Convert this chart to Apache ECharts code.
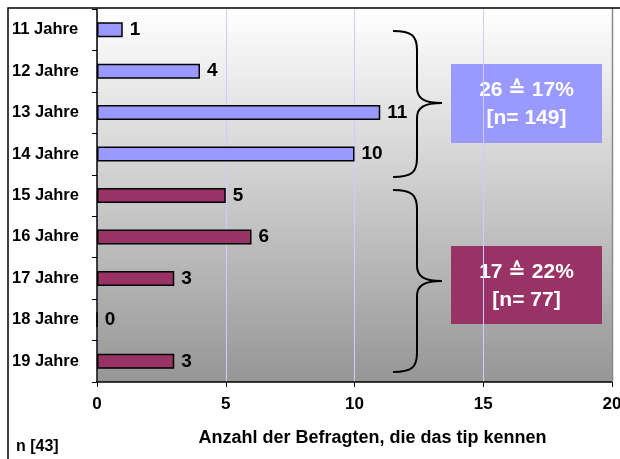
<!DOCTYPE html>
<html>
<head>
<meta charset="utf-8">
<script src="https://cdn.jsdelivr.net/npm/echarts@6/dist/echarts.min.js"></script>
<style>
  html, body { margin: 0; padding: 0; background: #fff; }
  #chart { width: 620px; height: 459px; }
</style>
</head>
<body>
<div id="chart"></div>
<script>
// Altersgruppen und Anzahl der Befragten, die das tip kennen
const ages = ['11 Jahre', '12 Jahre', '13 Jahre', '14 Jahre', '15 Jahre', '16 Jahre', '17 Jahre', '18 Jahre', '19 Jahre'];
const counts = [1, 4, 11, 10, 5, 6, 3, 0, 3];
const groupOf = [0, 0, 0, 0, 1, 1, 1, 1, 1]; // 0 = 11–14, 1 = 15–19
const groupColors = ['#9999FF', '#993366'];
const xTicks = [0, 5, 10, 15, 20];
const boxLines = [['26 ≙ 17%', '[n= 149]'], ['17 ≙ 22%', '[n= 77]']];

const FONT = '"Liberation Sans", "DejaVu Sans", Arial, sans-serif';
const G = { left: 97, top: 9, right: 8, bottom: 77 };

const chart = echarts.init(document.getElementById('chart'), null, { renderer: 'canvas' });

// curly brace opening to the right: top y0, bottom y1, tip at ym
function brace(x0, y0, y1, ym) {
  const xs = x0 + 24, xt = x0 + 49;
  const st = { fill: null, stroke: '#000', lineWidth: 2 };
  const bz = (x1, y1, c1x, c1y, c2x, c2y, x2, y2) => ({
    type: 'bezierCurve', style: st,
    shape: { x1, y1, cpx1: c1x, cpy1: c1y, cpx2: c2x, cpy2: c2y, x2, y2 }
  });
  const ln = (x1, y1, x2, y2) => ({ type: 'line', style: st, shape: { x1, y1, x2, y2 } });
  return {
    type: 'group', z: 10, children: [
      bz(x0, y0, x0 + 19, y0, xs, y0 + 5, xs, y0 + 19),
      ln(xs, y0 + 19, xs, ym - 15),
      bz(xs, ym - 15, xs, ym - 4, xs + 8, ym, xt, ym),
      bz(xt, ym, xs + 8, ym, xs, ym + 4, xs, ym + 15),
      ln(xs, ym + 15, xs, y1 - 19),
      bz(xs, y1 - 19, xs, y1 - 5, x0 + 19, y1, x0, y1)
    ]
  };
}

function box(x, y, w, h, color, lines) {
  const t = (s, dy) => ({
    type: 'text', x: x + w / 2, y: y + h / 2 + dy,
    style: { text: s, fill: '#fff', font: 'bold 21px ' + FONT, align: 'center', verticalAlign: 'middle' }
  });
  return {
    type: 'group', z: 10, children: [
      { type: 'rect', shape: { x, y, width: w, height: h }, style: { fill: color } },
      t(lines[0], -13), t(lines[1], 15)
    ]
  };
}

const plotW = 620 - G.left - G.right, plotH = 459 - G.top - G.bottom;

chart.setOption({
  animation: false,
  backgroundColor: '#fff',
  title: {
    text: 'n [43]', left: 11, top: 434,
    textStyle: { fontFamily: FONT, fontSize: 16, fontWeight: 'bold', color: '#000' }
  },
  grid: { ...G, containLabel: false, outerBoundsMode: 'none' },
  xAxis: {
    type: 'value', min: xTicks[0], max: xTicks[xTicks.length - 1], interval: 5,
    axisLine: { show: true, lineStyle: { color: '#000', width: 1.5 } },
    axisTick: { show: true, length: 5, lineStyle: { color: '#000' } },
    axisLabel: { margin: 14, fontFamily: FONT, fontSize: 17, fontWeight: 'bold', color: '#000' },
    splitLine: { show: true, lineStyle: { color: '#ccccff', width: 1 } },
    name: 'Anzahl der Befragten, die das tip kennen',
    nameLocation: 'middle', nameGap: 47,
    nameTextStyle: { fontFamily: FONT, fontSize: 18, fontWeight: 'bold', color: '#000', padding: [0, 0, 0, 36] }
  },
  yAxis: {
    type: 'category', data: ages, inverse: true,
    axisLine: { show: true, lineStyle: { color: '#000', width: 1.5 } },
    axisTick: { show: true, length: 5, lineStyle: { color: '#000' } },
    axisLabel: { align: 'left', margin: 85, fontFamily: FONT, fontSize: 16.5, fontWeight: 'bold', color: '#000' }
  },
  series: [{
    type: 'bar',
    barWidth: 15,
    data: counts.map((v, i) => ({ value: v, itemStyle: { color: groupColors[groupOf[i]] } })),
    itemStyle: { borderColor: '#000', borderWidth: 1.5 },
    label: {
      show: true, position: 'right', distance: 7,
      fontFamily: FONT, fontSize: 19, fontWeight: 'bold', color: '#000'
    }
  }],
  graphic: [
    {
      type: 'rect', z: -10, silent: true,
      shape: { x: G.left, y: G.top, width: plotW, height: plotH },
      style: {
        fill: { type: 'linear', x: 0, y: 0, x2: 0, y2: 1, colorStops: [
          { offset: 0, color: '#ffffff' }, { offset: 1, color: '#969696' }
        ] }
      }
    },
    { type: 'line', z: 10, shape: { x1: 612.5, y1: 8, x2: 612.5, y2: 382 }, style: { stroke: '#8a8a8a', lineWidth: 1.5 } },
    { type: 'rect', shape: { x: 8, y: 8, width: 640, height: 480 }, style: { fill: null, stroke: '#000', lineWidth: 1.5 }, z: 10 },
    brace(393, 31, 177, 103),
    brace(393, 190, 372, 281),
    box(451, 64, 151, 79, groupColors[0], boxLines[0]),
    box(451, 246, 151, 78, groupColors[1], boxLines[1])
  ]
});
</script>
</body>
</html>
